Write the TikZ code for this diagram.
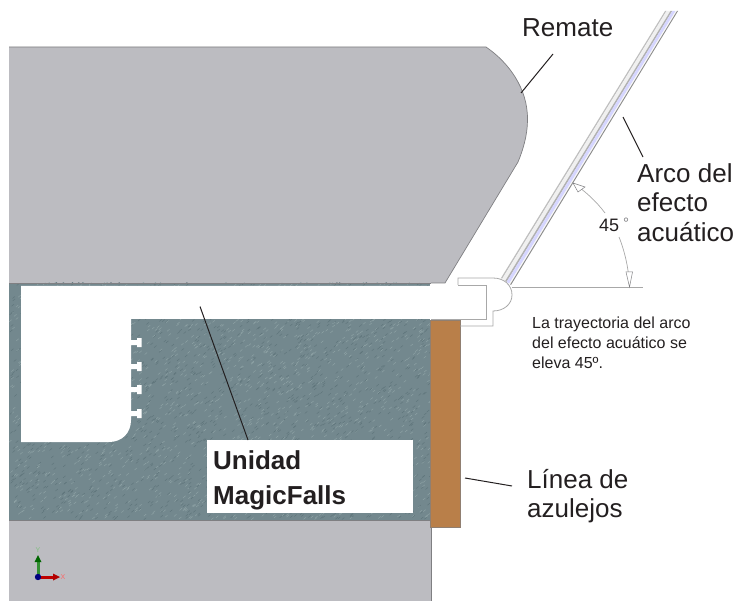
\documentclass[tikz,border=0pt]{standalone}
\usepackage{fontspec}
\usetikzlibrary{calc}
\setmainfont{Liberation Sans}
\definecolor{ink}{HTML}{231F20}
\definecolor{gris}{HTML}{BCBCC1}
\definecolor{grisedge}{HTML}{7F7F82}
\definecolor{piedra}{HTML}{73888E}
\definecolor{piedraD}{HTML}{5F757B}
\definecolor{piedraL}{HTML}{8FA3A6}
\definecolor{ladrillo}{HTML}{B97F49}
\definecolor{fine}{HTML}{A8A8A8}
\tikzset{
  outline/.style={draw=fine,line width=.8pt},
  edgeline/.style={draw=grisedge,line width=.7pt},
  leader/.style={draw=ink,line width=1pt},
  dim/.style={draw=fine,line width=.7pt},
  tiphollow/.style={draw=grisedge,fill=white,line width=.5pt},
  big/.style={anchor=north west,inner sep=0pt,align=left,text=ink,font=\fontsize{26}{29.5}\selectfont},
  bigbold/.style={anchor=north west,inner sep=0pt,align=left,text=ink,font=\fontsize{26}{35}\selectfont\bfseries},
  small/.style={anchor=north west,inner sep=0pt,align=left,text=ink,font=\fontsize{16}{20}\selectfont},
}
\newcommand{\tubeband}[3]{\fill[#3] ($(tubeBL)!#1!(tubeBR)$) -- ($(tubeTL)!#1!(tubeTR)$) -- ($(tubeTL)!#2!(tubeTR)$) -- ($(tubeBL)!#2!(tubeBR)$) -- cycle;}
\newcommand{\hookat}[1]{-- (131,#1+2) -- (137,#1+2) -- (137,#1) -- (141.5,#1) -- (141.5,#1+9) -- (137,#1+9) -- (137,#1+7) -- (131,#1+7)}
\begin{document}
\begin{tikzpicture}[x=1pt,y=-1pt]
\useasboundingbox (0,0) rectangle (749,601);
% top grey body
\fill[gris] (9,283) -- (9,47) -- (486,47)
  .. controls (508,62) and (528,88) .. (527.5,120)
  .. controls (527.5,135) and (523,150) .. (518,162)
  -- (445,283) -- cycle;
\draw[edgeline] (9,47) -- (486,47)
  .. controls (508,62) and (528,88) .. (527.5,120)
  .. controls (527.5,135) and (523,150) .. (518,162)
  -- (445,283) -- (431,283);
% stone
\fill[piedra] (9,283) rectangle (430,520);
\begin{scope}
\clip (9,283) rectangle (430,520);
\pgfmathsetseed{4242}
\foreach \i in {1,...,3400}{
  \pgfmathsetmacro{\px}{9+421*rnd}
  \pgfmathsetmacro{\py}{283+237*rnd}
  \pgfmathsetmacro{\pa}{rnd}
  \ifdim\pa pt<.5pt\def\pc{piedraD}\else\def\pc{piedraL}\fi
  \draw[\pc,line width=.45pt] (\px,\py) -- ++(2.4,-2);
}
\end{scope}
\draw[edgeline] (9,283) -- (431,283);
% lower grey
\fill[gris] (9,520) rectangle (431,601);
\draw[edgeline] (9,520) -- (431,520) -- (431,601);
% brick
\path[fill=ladrillo,draw=grisedge!70!ladrillo,line width=.7pt] (430.5,320) rectangle (460,527);
% white unit
\fill[white] (21,286) -- (486,286) -- (486,319) -- (131,319)
  \hookat{338} \hookat{362} \hookat{385} \hookat{409}
  -- (131,420) .. controls (131,433) and (122,442) .. (109,442) -- (21,442) -- cycle;
\draw[outline] (431,319) -- (486,319) -- (486,285) -- (458,285);
% tube
\coordinate (tubeBL) at (501,278);
\coordinate (tubeBR) at (511,285);
\coordinate (tubeTL) at (665,11);
\coordinate (tubeTR) at (678,11);
\tubeband{0}{.12}{black!25}
\tubeband{.12}{.42}{black!6}
\tubeband{.42}{.56}{black!30}
\tubeband{.56}{.82}{blue!16!white}
\tubeband{.82}{.92}{black!3}
\tubeband{.92}{1}{black!45}
% housing outline
\draw[outline] (458,285) -- (458,278) -- (493,278)
  .. controls (504,278) and (512,285) .. (512,295)
  .. controls (512,304) and (504,311) .. (493,311)
  -- (493,326) -- (460,326);
% dimension
\coordinate (base0) at (512,287.5);
\coordinate (base1) at (643,287.5);
\draw[fine,line width=.9pt] (base0) -- (base1);
\coordinate (dimA) at (573,183);
\coordinate (dimAe) at (605,213);
\coordinate (dimBs) at (619,237);
\coordinate (dimB) at (629.5,287);
\draw[dim] (dimA) .. controls (585,191) and (596,201) .. (dimAe);
\draw[dim] (dimBs) .. controls (625,252) and (629,270) .. (dimB);
\path[tiphollow] (dimA) -- (585,187) -- (578,192) -- cycle;
\path[tiphollow] (dimB) -- (626,272) -- (632.5,272) -- cycle;
\node[anchor=base west,inner sep=0pt,text=ink,font=\fontsize{18}{18}\selectfont] (angle) at (599,232) {45};
\node[anchor=base west,inner sep=0pt,text=grisedge,font=\fontsize{15}{15}\selectfont] (deg) at (623,229) {°};
% labels
\node[big] (remate) at (522,18.5) {Remate};
\node[big] (arco) at (637,163) {Arco del\\efecto\\acuático};
\node[big] (linea) at (527,469) {Línea de\\azulejos};
\node[small] (nota) at (532,316.5) {La trayectoria del arco\\del efecto acuático se\\eleva 45º.};
\node[fill=white,inner sep=0pt,minimum width=206pt,minimum height=73pt,anchor=north west] (box) at (207,440) {};
\node[bigbold] (unidad) at (213,450) {Unidad\\MagicFalls};
% leaders
\coordinate (remateEnd) at (553,54);
\coordinate (remateTip) at (521,93);
\coordinate (arcoEnd) at (643,157);
\coordinate (arcoTip) at (623,117);
\coordinate (lineaEnd) at (512,486);
\coordinate (lineaTip) at (465,478);
\coordinate (uniTip) at (200,306.5);
\coordinate (uniEnd) at (248,440);
\draw[leader] (remateEnd) -- (remateTip);
\draw[leader] (arcoEnd) -- (arcoTip);
\draw[leader] (lineaEnd) -- (lineaTip);
\draw[leader] (uniEnd) -- (uniTip);
% axes
\coordinate (ax0) at (38,577);
\coordinate (axX) at (60,577);
\coordinate (axY) at (38,555);
\draw[green!45!black!80!white,line width=3pt] (ax0) -- (38,562);
\fill[green!40!black] (axY) -- (34.5,562) -- (41.5,562) -- cycle;
\draw[red!75!black,line width=3pt] (ax0) -- (53,577);
\fill[red!70!black] (axX) -- (53,573.5) -- (53,580.5) -- cycle;
\fill[blue!50!black] (ax0) circle (3.2);
\node[inner sep=0pt,text=green!50!black!50!white,font=\fontsize{7}{7}\selectfont] (ylab) at (38,550) {Y};
\node[inner sep=0pt,text=red!60!white,font=\fontsize{7}{7}\selectfont] (xlab) at (63,577) {X};
\end{tikzpicture}
\end{document}
